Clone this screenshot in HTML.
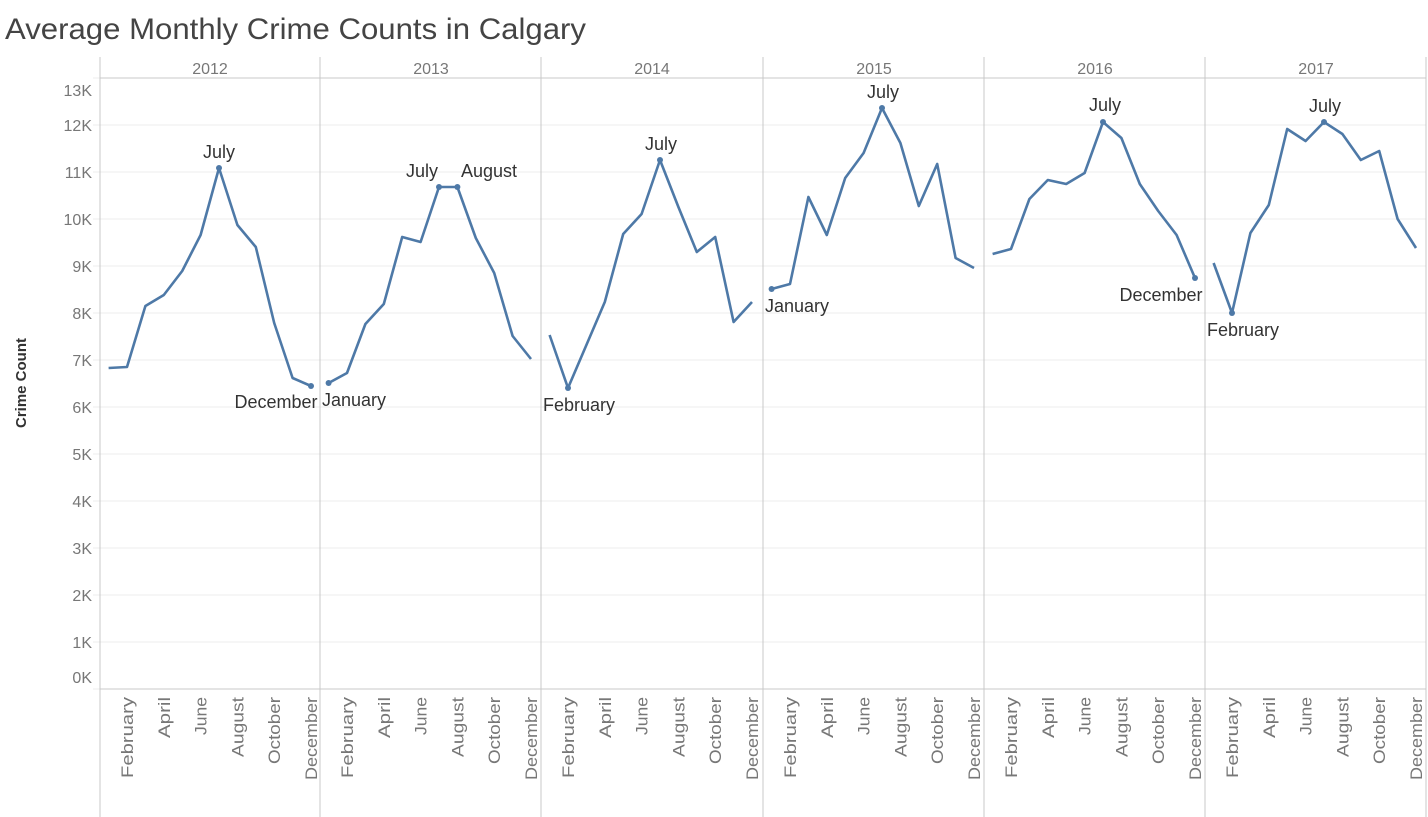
<!DOCTYPE html>
<html><head><meta charset="utf-8"><style>
body{margin:0;background:#fff;}
svg{display:block;font-family:"Liberation Sans",sans-serif;}
</style></head><body>
<svg id="s" width="1428" height="817" xmlns="http://www.w3.org/2000/svg">
<text x="5" y="39" font-size="30" fill="#444" textLength="581" lengthAdjust="spacingAndGlyphs">Average Monthly Crime Counts in Calgary</text>
<g id="grid"></g>
<g font-size="16" fill="#777" text-anchor="middle">
<text x="210" y="74">2012</text><text x="431" y="74">2013</text><text x="652" y="74">2014</text>
<text x="874" y="74">2015</text><text x="1095" y="74">2016</text><text x="1316" y="74">2017</text>
</g>
<text transform="translate(26,383) rotate(-90)" font-size="15" font-weight="bold" fill="#333" text-anchor="middle">Crime Count</text>
<g id="lines"></g>
<g font-size="18" fill="#333" text-anchor="middle">
<text x="219" y="158">July</text><text x="276" y="408">December</text>
<text x="422" y="177">July</text><text x="489" y="177">August</text><text x="354" y="406">January</text>
<text x="579" y="411">February</text><text x="661" y="150">July</text>
<text x="883" y="98">July</text><text x="797" y="312">January</text>
<text x="1105" y="111">July</text><text x="1161" y="301">December</text>
<text x="1325" y="112">July</text><text x="1243" y="336">February</text>
</g>
</svg>
<script>
const s=document.getElementById('grid'),L=document.getElementById('lines'),NS='http://www.w3.org/2000/svg';
function el(p,t,a,txt){const e=document.createElementNS(NS,t);for(const k in a)e.setAttribute(k,a[k]);if(txt)e.textContent=txt;p.appendChild(e);return e;}
for(let k=0;k<=13;k++){const y=689-k*47;el(s,'line',{x1:93,x2:1426,y1:y,y2:y,stroke:'#eeeeee'});
let ly=y+6; if(k==0)ly=683; if(k==13)ly=96;
el(s,'text',{x:92,y:ly,'font-size':16,fill:'#777','text-anchor':'end'},k+'K');}
const px=[100,320,541,763,984,1205,1426];
px.forEach(x=>el(s,'line',{x1:x,x2:x,y1:57,y2:817,stroke:'#c8c8c8'}));
el(s,'line',{x1:100,x2:1426,y1:78,y2:78,stroke:'#c8c8c8'});
el(s,'line',{x1:100,x2:1426,y1:689,y2:689,stroke:'#c8c8c8'});
const M=[['February',81],['April',41],['June',38],['August',60],['October',67],['December',83]];
const data=[
[368,367,306,295,271,235,168,225,247,323,378,386],
[383,373,324,304,237,242,187,187,238,273,336,359],
[335,388,345,302,234,214,160,207,252,237,322,302],
[289,284,197,235,178,153,108,143,206,164,258,268],
[254,249,199,180,184,173,122,138,184,211,235,278],
[263,313,233,205,129,141,122,134,160,151,219,248]];
const dots=[[11,6],[0,6,7],[1,6],[0,6],[6,11],[1,6]];
data.forEach((d,p)=>{const x0=px[p]+8.6;
el(L,'polyline',{points:d.map((y,i)=>(x0+i*18.4)+','+y).join(' '),fill:'none',stroke:'#4e79a7','stroke-width':2.6,'stroke-linejoin':'round'});
dots[p].forEach(i=>el(L,'circle',{cx:x0+i*18.4,cy:d[i],r:3,fill:'#4e79a7'}));
M.forEach((m,j)=>{const x=x0+(2*j+1)*18.4+6;el(s,'text',{transform:`translate(${x},697) rotate(-90)`,'font-size':17,fill:'#777','text-anchor':'end',textLength:m[1],lengthAdjust:'spacingAndGlyphs'},m[0]);});
});
</script>
</body></html>
